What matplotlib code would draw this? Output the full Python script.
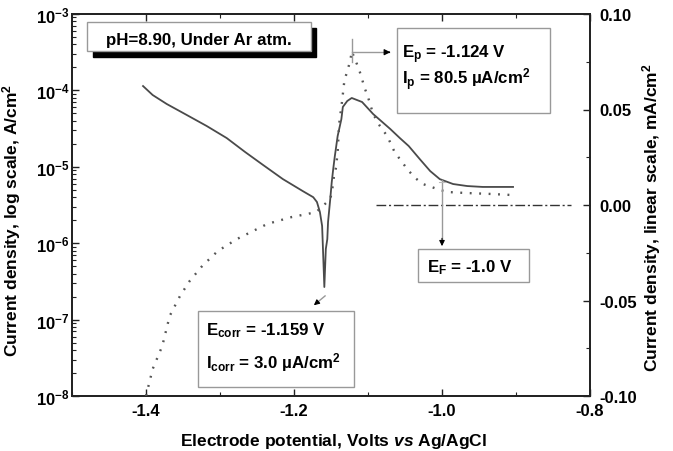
import numpy as np
import matplotlib
matplotlib.use('Agg')
import matplotlib.pyplot as plt
from matplotlib.patches import Rectangle
from matplotlib.ticker import MultipleLocator, LogLocator, FuncFormatter, NullFormatter

plt.rcParams['font.family'] = ['Liberation Sans', 'DejaVu Sans']
plt.rcParams['font.weight'] = 'bold'
plt.rcParams['axes.unicode_minus'] = False
plt.rcParams['mathtext.fontset'] = 'custom'
plt.rcParams['mathtext.rm'] = 'Liberation Sans:bold'
plt.rcParams['mathtext.bf'] = 'Liberation Sans:bold'
plt.rcParams['mathtext.it'] = 'Liberation Sans:bold:italic'
plt.rcParams['mathtext.default'] = 'bf'

# Solid curve: current density, log scale (A/cm^2)
log_x = [-1.404, -1.391, -1.372, -1.345, -1.318, -1.291, -1.266, -1.242, -1.215,
         -1.188, -1.174, -1.169, -1.165, -1.162, -1.161, -1.159, -1.157, -1.155,
         -1.154, -1.151, -1.149, -1.147, -1.145, -1.141, -1.136, -1.134, -1.128,
         -1.122, -1.108, -1.093, -1.070, -1.057, -1.045, -1.030, -1.016, -1.003,
         -0.985, -0.966, -0.945, -0.904]
log_j = [1.14e-4, 8.7e-5, 6.64e-5, 4.77e-5, 3.42e-5, 2.38e-5, 1.56e-5, 1.06e-5, 6.9e-6,
         4.8e-6, 4.0e-6, 3.46e-6, 2.56e-6, 1.68e-6, 9.2e-7, 2.67e-7, 8.4e-7, 1.13e-6,
         1.89e-6, 3.8e-6, 6.3e-6, 9.35e-6, 1.34e-5, 2.53e-5, 4.2e-5, 6.07e-5, 7.27e-5,
         7.96e-5, 7.05e-5, 4.9e-5, 3.13e-5, 2.38e-5, 1.87e-5, 1.26e-5, 8.8e-6, 6.9e-6,
         5.95e-6, 5.6e-6, 5.45e-6, 5.45e-6]

# Dotted curve: current density, linear scale (mA/cm^2)
lin_x = [-1.400, -1.391, -1.378, -1.368, -1.354, -1.341, -1.324, -1.303, -1.277,
         -1.236, -1.203, -1.182, -1.170, -1.161, -1.151, -1.149, -1.147, -1.146,
         -1.143, -1.142, -1.141, -1.139, -1.135, -1.132, -1.128, -1.124, -1.122,
         -1.115, -1.111, -1.104, -1.100, -1.093, -1.084, -1.074, -1.064, -1.054,
         -1.046, -1.036, -1.026, -1.014, -1.003, -0.992, -0.969, -0.935, -0.904]
lin_j = [-0.100, -0.0859, -0.0738, -0.0581, -0.0476, -0.0398, -0.0319, -0.0241, -0.0178,
         -0.0099, -0.0063, -0.0047, -0.0037, -0.0005, 0.0031, 0.0068, 0.0115, 0.0152,
         0.0199, 0.0241, 0.0277, 0.0424, 0.0545, 0.0649, 0.0702, 0.0754, 0.0805,
         0.0738, 0.0696, 0.0607, 0.0565, 0.0476, 0.0414, 0.0361, 0.0277, 0.0225,
         0.0183, 0.0141, 0.0110, 0.0094, 0.0079, 0.0068, 0.0063, 0.0058, 0.0052]

# Zero reference (dash-dot) line
zero_x = [-1.089, -0.825]
zero_j = [0.0, 0.0]

fig = plt.figure(figsize=(6.73, 4.52), dpi=100)
ax = fig.add_axes([72/673, 1-397/452, 518/673, 382/452])
ax2 = ax.twinx()

ax.set_yscale('log')
ax.set_xlim(-1.5, -0.8)
ax.set_ylim(1e-8, 1e-3)
ax2.set_ylim(-0.1, 0.1)

ax.plot(log_x, log_j, color='#4a4a4a', lw=1.3, zorder=3)
ax2.plot(lin_x, lin_j, color='#555555', lw=1.7, linestyle=(0, (0.8, 3.2)), zorder=3)
ax2.plot(zero_x, zero_j, color='#333333', lw=1.0, linestyle=(0, (7, 2, 1.5, 2)))

# ticks
ax.xaxis.set_major_locator(MultipleLocator(0.2))
ax.xaxis.set_minor_locator(MultipleLocator(0.1))
ax.xaxis.set_major_formatter(FuncFormatter(lambda v, p: f'{v:.1f}'))
ax.yaxis.set_major_locator(LogLocator(base=10, numticks=10))
ax.yaxis.set_minor_locator(LogLocator(base=10, subs=np.arange(2, 10), numticks=20))
ax.yaxis.set_minor_formatter(NullFormatter())
ax.yaxis.set_major_formatter(FuncFormatter(lambda v, p: r'$\mathbf{10^{%d}}$' % round(np.log10(v))))
ax2.yaxis.set_major_locator(MultipleLocator(0.05))
ax2.yaxis.set_minor_locator(MultipleLocator(0.025))
ax2.yaxis.set_major_formatter(FuncFormatter(lambda v, p: f'{v:.2f}'))

ax.tick_params(axis='x', which='both', direction='in', top=True, labelsize=12, pad=5)
ax.tick_params(axis='y', which='both', direction='in', labelsize=12, pad=1.5)
ax2.tick_params(axis='y', which='both', direction='in', labelsize=12, pad=7)
for a in (ax, ax2):
    a.tick_params(which='major', length=5, width=1.0, color='#222222')
    a.tick_params(which='minor', length=3, width=0.8, color='#222222')
    for s in a.spines.values():
        s.set_linewidth(1.3)
        s.set_color('#222222')

# axis labels
fig.text(0.0175, 0.513, 'Current density, log scale, A/cm$^\\mathbf{2}$', rotation=90,
         ha='center', va='center', fontsize=12.5)
fig.text(0.968, 0.518, 'Current density, linear scale, mA/cm$^\\mathbf{2}$', rotation=90,
         ha='center', va='center', fontsize=12.5)
fig.text(0.495, 0.024, 'Electrode potential, Volts $\\mathit{vs}$ Ag/AgCl',
         ha='center', va='center', fontsize=12.5)

T = ax2.transAxes
def px(x, y):
    return ((x - 72) / 518, (397 - y) / 382)

# pH box with shadow
x0, y0 = px(93, 58); x1, y1 = px(316, 29)
ax2.add_patch(Rectangle((x0, y0), x1-x0, y1-y0, transform=T, facecolor='black', edgecolor='black', zorder=5))
x0, y0 = px(87, 52); x1, y1 = px(311, 23)
ax2.add_patch(Rectangle((x0, y0), x1-x0, y1-y0, transform=T, facecolor='white', edgecolor='#999999', lw=1, zorder=6))
ax2.text(*px(199, 45), 'pH=8.90, Under Ar atm.', transform=T, ha='center', va='baseline', fontsize=12.2, zorder=7)

# Ep box
x0, y0 = px(397, 114); x1, y1 = px(550, 29)
ax2.add_patch(Rectangle((x0, y0), x1-x0, y1-y0, transform=T, facecolor='white', edgecolor='#999999', lw=1, zorder=6))
ax2.text(*px(402, 58), r'$\mathbf{E_p}$ = -1.124 V', transform=T, ha='left', va='baseline', fontsize=12.2, zorder=7)
ax2.text(*px(402, 85), r'$\mathbf{I_p}$ = 80.5 µA/cm$^\mathbf{2}$', transform=T, ha='left', va='baseline', fontsize=12.2, zorder=7)

# Ecorr box
x0, y0 = px(198, 388); x1, y1 = px(354, 312)
ax2.add_patch(Rectangle((x0, y0), x1-x0, y1-y0, transform=T, facecolor='white', edgecolor='#999999', lw=1, zorder=6))
ax2.text(*px(206, 335), r'$\mathbf{E_{corr}}$ = -1.159 V', transform=T, ha='left', va='baseline', fontsize=12.2, zorder=7)
ax2.text(*px(206, 368), r'$\mathbf{I_{corr}}$ = 3.0 µA/cm$^\mathbf{2}$', transform=T, ha='left', va='baseline', fontsize=12.2, zorder=7)

# EF box
x0, y0 = px(418, 283); x1, y1 = px(529, 250)
ax2.add_patch(Rectangle((x0, y0), x1-x0, y1-y0, transform=T, facecolor='white', edgecolor='#999999', lw=1, zorder=6))
ax2.text(*px(427, 272), r'$\mathbf{E_F}$ = -1.0 V', transform=T, ha='left', va='baseline', fontsize=12.2, zorder=7)

# arrows
ax2.plot([-1.122, -1.122], [0.0749, 0.0869], color='#999999', lw=1, zorder=4)
ax2.plot([-1.122, -1.072], [0.080, 0.080], color='#999999', lw=1, zorder=4)
ax2.annotate('', xy=(-1.066, 0.080), xytext=(-1.076, 0.080),
             arrowprops=dict(arrowstyle='-|>', color='black', lw=0.8, mutation_scale=9), zorder=4)
ax2.plot([-1.0, -1.0], [0.013, -0.018], color='#999999', lw=1, zorder=4)
ax2.annotate('', xy=(-1.0, -0.023), xytext=(-1.0, -0.016),
             arrowprops=dict(arrowstyle='-|>', color='black', lw=0.8, mutation_scale=8), zorder=4)
ax2.plot([-1.0045, -0.9955], [0.012, 0.012], color='#bbbbbb', lw=0.8, zorder=4)
ax2.plot([-1.158, -1.171], [-0.0476, -0.0518], color='#999999', lw=1, zorder=4)
ax2.annotate('', xy=(-1.176, -0.0534), xytext=(-1.168, -0.0508),
             arrowprops=dict(arrowstyle='-|>', color='black', lw=0.8, mutation_scale=8), zorder=4)

fig.savefig('out.png', dpi=100)
